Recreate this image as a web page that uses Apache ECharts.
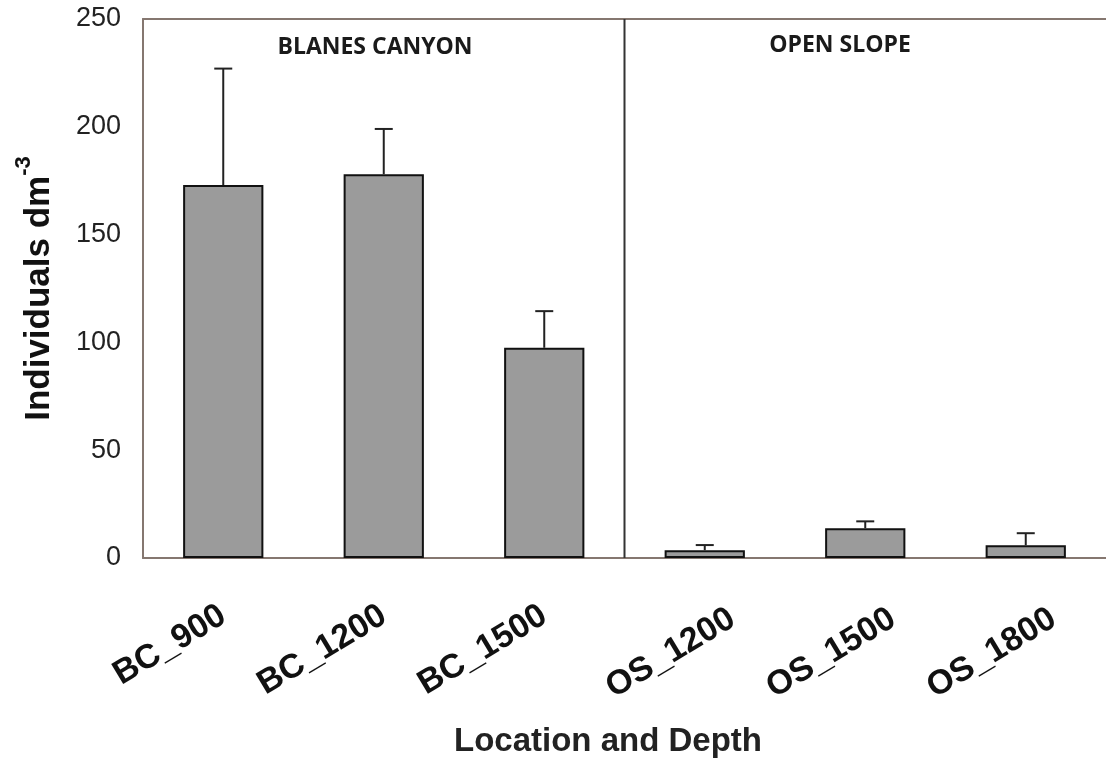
<!DOCTYPE html>
<html>
<head>
<meta charset="utf-8">
<script src="https://cdn.jsdelivr.net/npm/echarts@6/dist/echarts.min.js"></script>
<style>
  html, body { margin: 0; padding: 0; background: #fff; }
  #chart { width: 1106px; height: 765px; }
</style>
</head>
<body>
<div id="chart"></div>
<script>
// Sampling sites (location_depth) and mean abundance with standard deviation
const sites = ['BC_900', 'BC_1200', 'BC_1500', 'OS_1200', 'OS_1500', 'OS_1800'];
const meanAbundance = [173, 178, 97.5, 3.6, 13.8, 5.9];
const stdDev = [54, 21, 17, 2.4, 3.2, 5.6];
const yTicks = [0, 50, 100, 150, 200, 250];
const regionNames = ['BLANES CANYON', 'OPEN SLOPE'];

const chart = echarts.init(document.getElementById('chart'));
const frameColor = '#857770';
const sans = 'Liberation Sans, Arial, sans-serif';

const errorData = sites.map((s, i) => [i, meanAbundance[i], meanAbundance[i] + stdDev[i]]);

// open-slope labels sit a little further right under their bars
const siteItems = sites.map(s => s.startsWith('OS')
  ? { value: s, textStyle: { verticalAlign: 'top', padding: [0, -22, 0, 0] } }
  : s);

chart.setOption({
  animation: false,
  backgroundColor: '#ffffff',
  grid: { left: 143, top: 19, right: -4, bottom: 207 },
  xAxis: [
    {
      type: 'category',
      data: siteItems,
      axisLine: { show: true, lineStyle: { color: frameColor, width: 2 } },
      axisTick: { show: false },
      axisLabel: {
        rotate: 31, margin: 55,
        fontFamily: sans, fontWeight: 'bold', fontSize: 34, color: '#111'
      }
    },
    {
      // top frame line only
      type: 'category',
      data: sites,
      position: 'top',
      axisLine: { show: true, lineStyle: { color: frameColor, width: 2 } },
      axisTick: { show: false },
      axisLabel: { show: false }
    }
  ],
  yAxis: {
    type: 'value',
    min: yTicks[0], max: yTicks[yTicks.length - 1], interval: 50,
    name: '{b|Individuals dm}{sup|-3}',
    nameLocation: 'middle',
    nameGap: 86,
    nameRotate: 90,
    nameTextStyle: {
      rich: {
        b: { fontFamily: sans, fontWeight: 'bold', fontSize: 35, color: '#111', verticalAlign: 'bottom', lineHeight: 44 },
        sup: { fontFamily: sans, fontWeight: 'bold', fontSize: 22, color: '#111', verticalAlign: 'top', padding: [0, 0, 18, 0], lineHeight: 44 }
      }
    },
    axisLine: { show: true, lineStyle: { color: frameColor, width: 2 } },
    axisTick: { show: false },
    splitLine: { show: false },
    axisLabel: {
      margin: 22, padding: [6, 0, 0, 0],
      fontFamily: sans, fontSize: 27, color: '#222'
    }
  },
  series: [
    {
      type: 'bar',
      data: meanAbundance,
      barWidth: '50%',
      itemStyle: { color: '#9b9b9b', borderColor: '#111', borderWidth: 2 },
      z: 2
    },
    {
      type: 'custom',
      data: errorData,
      z: 3,
      renderItem: function (params, api) {
        const idx = api.value(0);
        const base = api.coord([idx, api.value(1)]);
        const top = api.coord([idx, api.value(2)]);
        const cap = 9;
        return {
          type: 'group',
          children: [
            { type: 'line', shape: { x1: base[0], y1: base[1], x2: top[0], y2: top[1] }, style: { stroke: '#222', lineWidth: 2 } },
            { type: 'line', shape: { x1: top[0] - cap, y1: top[1], x2: top[0] + cap, y2: top[1] }, style: { stroke: '#222', lineWidth: 2 } }
          ]
        };
      }
    }
  ]
});

// Divider between the two regions and region headings, placed from the axis scale
const xLeft = chart.convertToPixel({ xAxisIndex: 0 }, sites[2]);
const xRight = chart.convertToPixel({ xAxisIndex: 0 }, sites[3]);
const xDiv = (xLeft + xRight) / 2;
const yTop = chart.convertToPixel({ yAxisIndex: 0 }, yTicks[yTicks.length - 1]);
const yBase = chart.convertToPixel({ yAxisIndex: 0 }, 0);

chart.setOption({
  graphic: [
    { type: 'line', shape: { x1: xDiv, y1: yTop, x2: xDiv, y2: yBase }, style: { stroke: '#333', lineWidth: 2 }, z: 5 },
    { type: 'text', x: 375, y: 47, style: { text: regionNames[0], fill: '#1a1a1a', font: 'bold 23px "Open Sans", sans-serif', textAlign: 'center', textVerticalAlign: 'middle' } },
    { type: 'text', x: 840, y: 45, style: { text: regionNames[1], fill: '#1a1a1a', font: 'bold 23px "Open Sans", sans-serif', textAlign: 'center', textVerticalAlign: 'middle' } },
    { type: 'text', x: 608, y: 742, style: { text: 'Location and Depth', fill: '#222', font: 'bold 33px "Liberation Sans", Arial, sans-serif', textAlign: 'center', textVerticalAlign: 'middle' } }
  ]
});
</script>
</body>
</html>
